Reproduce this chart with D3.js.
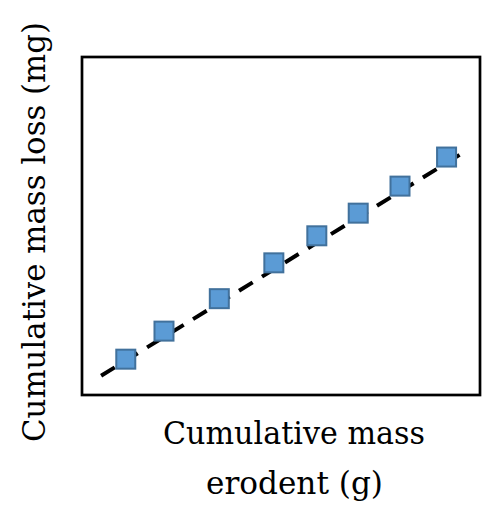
<!DOCTYPE html>
<html>
<head>
<meta charset="utf-8">
<script src="https://cdn.jsdelivr.net/npm/d3@7"></script>
<style>
html,body{margin:0;padding:0;background:#fff;}
svg{display:block;}
</style>
</head>
<body>
<svg id="chart" width="487" height="505"></svg>
<script>
// Data (arbitrary units, axes have no tick labels)
const erodent = [1.10, 2.06, 3.45, 4.82, 5.90, 6.94, 7.99, 9.16];
const massLoss = [1.06, 1.89, 2.85, 3.91, 4.71, 5.38, 6.18, 7.04];
const trendX = [0.48, 9.62];
const trendY = [0.57, 7.20];
const xLabelLines = ["Cumulative mass", "erodent (g)"];
const yLabel = "Cumulative mass loss (mg)";

const svg = d3.select("#chart");
const plotLeft = 82, plotRight = 480, plotTop = 57, plotBottom = 395;

const x = d3.scaleLinear().domain([0, 10]).range([plotLeft, plotRight]);
const y = d3.scaleLinear().domain([0, 10]).range([plotBottom, plotTop]);

// frame
svg.append("rect")
  .attr("x", plotLeft).attr("y", plotTop)
  .attr("width", plotRight - plotLeft).attr("height", plotBottom - plotTop)
  .attr("fill", "none").attr("stroke", "#000").attr("stroke-width", 2.7);

// trend line
const line = d3.line().x(d => x(d[0])).y(d => y(d[1]));
svg.append("path")
  .datum(d3.zip(trendX, trendY))
  .attr("d", line)
  .attr("fill", "none")
  .attr("stroke", "#000")
  .attr("stroke-width", 4)
  .attr("stroke-dasharray", "16,11");

// points
const s = 19;
svg.selectAll("rect.pt")
  .data(d3.zip(erodent, massLoss))
  .join("rect")
  .attr("class", "pt")
  .attr("x", d => x(d[0]) - s / 2)
  .attr("y", d => y(d[1]) - s / 2)
  .attr("width", s).attr("height", s)
  .attr("fill", "#5B9BD5")
  .attr("stroke", "#41719C")
  .attr("stroke-width", 2);

// x label
const font = "'DejaVu Serif', serif";
const xl = [
  {t: xLabelLines[0], cx: 294, by: 444, w: 262},
  {t: xLabelLines[1], cx: 294.5, by: 494, w: 177}
];
xl.forEach(o => {
  svg.append("text")
    .attr("x", o.cx).attr("y", o.by)
    .attr("text-anchor", "middle")
    .attr("font-family", font)
    .attr("font-size", 31)
    .attr("fill", "#000")
    .attr("textLength", o.w)
    .attr("lengthAdjust", "spacingAndGlyphs")
    .text(o.t);
});

// y label
svg.append("text")
  .attr("transform", "translate(45,232) rotate(-90)")
  .attr("text-anchor", "middle")
  .attr("font-family", font)
  .attr("font-size", 31)
  .attr("fill", "#000")
  .attr("textLength", 420)
  .attr("lengthAdjust", "spacingAndGlyphs")
  .text(yLabel);
</script>
</body>
</html>
